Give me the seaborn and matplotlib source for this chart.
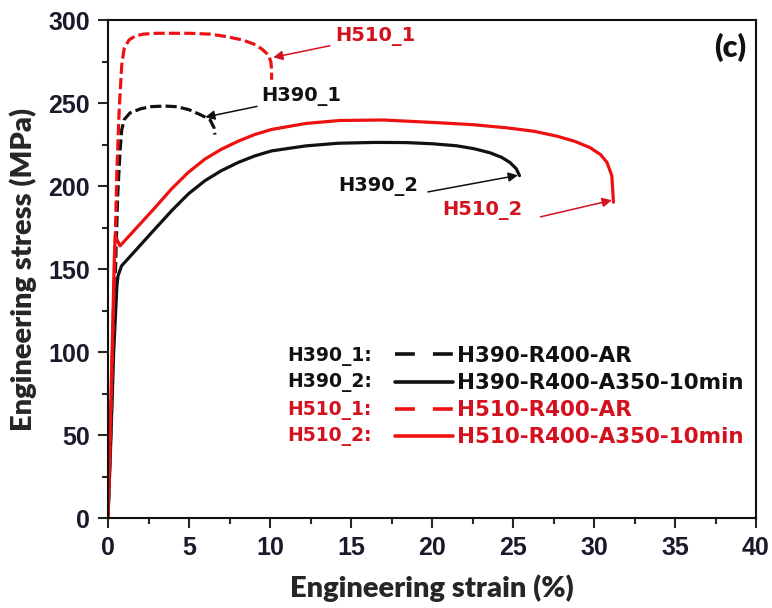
import matplotlib
matplotlib.use("Agg")
import matplotlib.pyplot as plt
from matplotlib.lines import Line2D
import seaborn as sns
import pandas as pd

# ---- data ----
h390_1_x = [0, 0.2, 0.4, 0.6, 0.75, 0.85, 1.0, 1.35, 2.0, 2.6, 3.5, 4.25, 5.0, 5.7, 6.3, 6.55, 6.6]
h390_1_y = [0, 60, 130, 195, 222, 234, 240, 244, 246.5, 247.8, 248.2, 247.8, 246, 243, 240, 235, 231]

h390_2_x = [0, 0.15, 0.35, 0.55, 0.62, 0.84, 1.87, 2.9, 3.93, 4.96, 5.99, 7.0, 8.05, 9.07, 10.1, 12.2,
            14.2, 16.5, 18.4, 20, 21.5, 22.6, 23.6, 24.3, 24.8, 25.2, 25.4]
h390_2_y = [0, 40, 100, 140, 146, 152, 163.1, 174.2, 185.2, 195.3, 203.3, 209.3, 214.3, 218.2, 221.2,
            224.2, 225.8, 226.3, 226.2, 225.5, 224.3, 222.5, 220, 217.3, 214.3, 210.5, 206.3]

h510_1_x = [0, 0.2, 0.4, 0.55, 0.7, 0.85, 1.0, 1.3, 1.7, 2.2, 3, 4, 5, 6.3, 7.3, 8.3, 9.0, 9.5, 9.9,
            10.05, 10.1, 10.1]
h510_1_y = [0, 70, 150, 210, 248, 273, 283, 288, 290.5, 291.5, 292, 292, 292, 291.5, 290, 288, 285.5,
            282.5, 279, 275, 270, 264]

h510_2_x = [0, 0.1, 0.25, 0.4, 0.45, 0.74, 1.87, 2.9, 3.93, 4.96, 5.99, 7.0, 8.05, 9.07, 10.1, 12.2,
            14.3, 17, 20.5, 22.5, 24.6, 26.3, 27.7, 28.8, 29.75, 30.4, 30.8, 31.1, 31.2]
h510_2_y = [0, 40, 100, 160, 170, 164, 176, 187, 198.4, 208.3, 216.3, 222.2, 227.1, 231.1, 234.1,
            237.7, 239.5, 239.8, 238.1, 237, 235.1, 233, 230.1, 227, 223.2, 219, 214.3, 206.3, 190.3]

short_names = ["H390_1:", "H390_2:", "H510_1:", "H510_2:"]
long_names = ["H390-R400-AR", "H390-R400-A350-10min", "H510-R400-AR", "H510-R400-A350-10min"]

x_ticks = [0, 5, 10, 15, 20, 25, 30, 35, 40]
y_ticks = [0, 50, 100, 150, 200, 250, 300]

BLACK = "#111111"
RED = "#ee1111"
RED_TXT = "#d4111e"

sns.set_style("ticks")
plt.rcParams["font.family"] = ["DejaVu Sans"]

L, R, T, B = 108, 756, 20, 518.3
W, H = 772, 608
fig = plt.figure(figsize=(W / 100, H / 100), dpi=100)
ax = fig.add_axes([L / W, 1 - B / H, (R - L) / W, (B - T) / H])

dash = (0, (3.5, 1.3))
curves = [
    (h390_1_x, h390_1_y, BLACK, dash),
    (h390_2_x, h390_2_y, BLACK, "-"),
    (h510_2_x, h510_2_y, RED, "-"),
    (h510_1_x, h510_1_y, RED, dash),
]
for xs, ys, col, ls in curves:
    df = pd.DataFrame({"strain": xs, "stress": ys})
    sns.lineplot(data=df, x="strain", y="stress", sort=False, estimator=None,
                 color=col, linestyle=ls, linewidth=2.3, ax=ax)

ax.set_xlim(0, 40)
ax.set_ylim(0, 300)
ax.set_xticks(x_ticks)
ax.set_yticks(y_ticks)
ax.set_xticks([2.5 + 5 * i for i in range(8)], minor=True)
ax.set_yticks([25 + 50 * i for i in range(6)], minor=True)
ax.tick_params(which="major", direction="out", length=7, width=1.5, pad=6,
               top=False, right=False)
ax.tick_params(which="minor", direction="out", length=4, width=1.5, top=False, right=False)
for lab in ax.get_xticklabels() + ax.get_yticklabels():
    lab.set_fontfamily("Liberation Sans")
    lab.set_fontweight("bold")
    lab.set_fontsize(18)
    lab.set_color("#1a1a2a")
for sp in ax.spines.values():
    sp.set_linewidth(1.5)
    sp.set_color("#111111")

ax.set_xlabel("Engineering strain (%)", fontfamily="Lato", fontweight="heavy", fontsize=21, labelpad=10)
ax.set_ylabel("Engineering stress (MPa)", fontfamily="Lato", fontweight="heavy", fontsize=21, labelpad=8)

# panel tag
ax.text(0.985, 0.975, "(c)", transform=ax.transAxes, ha="right", va="top",
        fontfamily="Lato", fontweight="heavy", fontsize=22, color="#111111")

# annotations
ann_font = dict(fontfamily="DejaVu Sans", fontweight="bold", fontsize=14)
arrow = dict(arrowstyle="-|>", lw=1.1, mutation_scale=14, shrinkA=0, shrinkB=0)
ax.text(16.5, 290, "H510_1", color=RED_TXT, ha="center", va="center", **ann_font)
ax.annotate("", xy=(10.2, 277.5), xytext=(13.7, 284.5), arrowprops=dict(color=RED_TXT, **arrow))
ax.text(11.9, 254, "H390_1", color=BLACK, ha="center", va="center", **ann_font)
ax.annotate("", xy=(6.0, 241.5), xytext=(9.2, 248), arrowprops=dict(color=BLACK, **arrow))
ax.text(16.7, 199.5, "H390_2", color=BLACK, ha="center", va="center", **ann_font)
ax.annotate("", xy=(25.3, 206.5), xytext=(19.75, 196.5), arrowprops=dict(color=BLACK, **arrow))
ax.text(23.1, 185.5, "H510_2", color=RED_TXT, ha="center", va="center", **ann_font)
ax.annotate("", xy=(31.1, 191.5), xytext=(26.7, 181.5), arrowprops=dict(color=RED_TXT, **arrow))

# legend (line samples + descriptive names)
handles = [
    Line2D([], [], color=BLACK, lw=2.6, linestyle=(0, (5.5, 5.0))),
    Line2D([], [], color=BLACK, lw=2.6, linestyle="-"),
    Line2D([], [], color=RED, lw=2.6, linestyle=(0, (5.5, 5.0))),
    Line2D([], [], color=RED, lw=2.6, linestyle="-"),
]
leg = ax.legend(handles, long_names, loc="upper left",
                bbox_to_anchor=((395 - L) / (R - L), (B - 346) / (B - T)),
                frameon=False, borderpad=0, borderaxespad=0, handlelength=2.7, handletextpad=0.2,
                labelspacing=0.33, prop=dict(family="DejaVu Sans", weight="bold", size=15.5),
                labelcolor=[BLACK, BLACK, RED_TXT, RED_TXT])

short_y = [(B - py) / (B - T) for py in (356, 383, 410, 437)]
short_col = [BLACK, BLACK, RED_TXT, RED_TXT]
for name, yy, col in zip(short_names, short_y, short_col):
    ax.text((372 - L) / (R - L), yy, name, color=col, ha="right", va="center", transform=ax.transAxes,
            fontfamily="DejaVu Sans", fontweight="bold", fontsize=13.5)

fig.savefig("out.png", dpi=100)
